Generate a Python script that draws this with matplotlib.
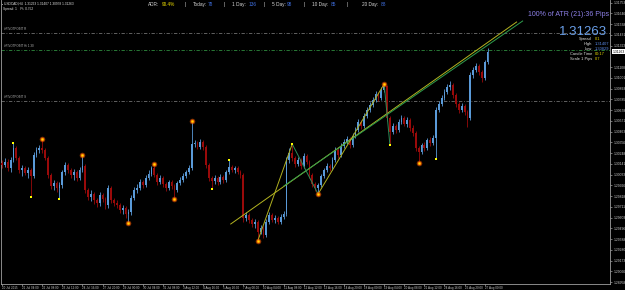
# USDCAD H4 - recreación de la captura del gráfico de velas
import matplotlib.pyplot as plt
from matplotlib.transforms import blended_transform_factory

plt.rcParams['font.family'] = ['Liberation Sans', 'DejaVu Sans']

# ---- DATOS ----
first_open = 1.3015
closes = [
    1.3013, 1.3016, 1.3010, 1.3018, 1.3030, 1.3020, 1.3008, 1.3010, 1.3005, 1.3008,
    1.3002, 1.3023, 1.3028, 1.3030, 1.3028, 1.3020, 1.3003, 1.2992, 1.2995, 1.2990,
    1.2993, 1.3006, 1.3013, 1.3008, 1.3003, 1.3006, 1.3000, 1.3008, 1.3012, 1.2988,
    1.2981, 1.2984, 1.2978, 1.2975, 1.2983, 1.2979, 1.2973, 1.2990, 1.2978, 1.2975,
    1.2973, 1.2968, 1.2970, 1.2964, 1.2966, 1.2980, 1.2988, 1.2990, 1.2996, 1.2993,
    1.3000, 1.3004, 1.3010, 1.3003, 1.2996, 1.3000, 1.2994, 1.2990, 1.2996, 1.2992,
    1.2988, 1.2995, 1.2998, 1.3002, 1.3006, 1.3010, 1.3034, 1.3035, 1.3031, 1.3036,
    1.3031, 1.3013, 1.3000, 1.2997, 1.3000, 1.2996, 1.3001, 1.2998, 1.3006, 1.3011,
    1.3008, 1.3010, 1.3006, 1.3003, 1.2960, 1.2963, 1.2958, 1.2954, 1.2956, 1.2946,
    1.2950, 1.2943, 1.2956, 1.2963, 1.2958, 1.2960, 1.2956, 1.2961, 1.2964, 1.3018,
    1.3025, 1.3020, 1.3014, 1.3018, 1.3012, 1.3022, 1.3016, 1.3003, 1.2994, 1.2990,
    1.2993, 1.3002, 1.3008, 1.3012, 1.3010, 1.3018, 1.3028, 1.3023, 1.3032, 1.3036,
    1.3039, 1.3033, 1.3042, 1.3048, 1.3056, 1.3052, 1.3062, 1.3068, 1.3073, 1.3078,
    1.3084, 1.3080, 1.3088, 1.3092, 1.3060, 1.3046, 1.3052, 1.3048, 1.3056, 1.3060,
    1.3054, 1.3058, 1.3050, 1.3045, 1.3030, 1.3026, 1.3033, 1.3030, 1.3038, 1.3035,
    1.3040, 1.3068, 1.3074, 1.3080, 1.3086, 1.3091, 1.3093, 1.3083, 1.3074, 1.3068,
    1.3072, 1.3066, 1.3060, 1.3103, 1.3108, 1.3112, 1.3106, 1.3100, 1.3116, 1.3126,
]
highs = [
    1.3018, 1.3020, 1.3019, 1.3021, 1.3035, 1.3032, 1.3022, 1.3013, 1.3012, 1.3011,
    1.3010, 1.3026, 1.3031, 1.3033, 1.3039, 1.3030, 1.3022, 1.3005, 1.2998, 1.2997,
    1.2996, 1.3008, 1.3016, 1.3015, 1.3010, 1.3009, 1.3008, 1.3011, 1.3023, 1.3014,
    1.2990, 1.2988, 1.2986, 1.2980, 1.2986, 1.2985, 1.2981, 1.2993, 1.2992, 1.2980,
    1.2978, 1.2975, 1.2973, 1.2972, 1.2969, 1.2983, 1.2991, 1.2994, 1.2999, 1.2998,
    1.3003, 1.3008, 1.3012, 1.3014, 1.3005, 1.3003, 1.3002, 1.2996, 1.2998, 1.2998,
    1.2994, 1.2997, 1.3001, 1.3005, 1.3008, 1.3013, 1.3057, 1.3038, 1.3037, 1.3039,
    1.3038, 1.3033, 1.3015, 1.3002, 1.3003, 1.3002, 1.3004, 1.3003, 1.3008, 1.3018,
    1.3013, 1.3012, 1.3012, 1.3008, 1.3005, 1.2966, 1.2965, 1.2960, 1.2959, 1.2958,
    1.2953, 1.2952, 1.2959, 1.2966, 1.2965, 1.2963, 1.2962, 1.2964, 1.2967, 1.3021,
    1.3030, 1.3034, 1.3022, 1.3021, 1.3020, 1.3025, 1.3024, 1.3018, 1.3005, 1.2996,
    1.2995, 1.3004, 1.3010, 1.3015, 1.3014, 1.3021, 1.3031, 1.3030, 1.3035, 1.3039,
    1.3042, 1.3041, 1.3045, 1.3051, 1.3059, 1.3058, 1.3065, 1.3071, 1.3076, 1.3081,
    1.3087, 1.3086, 1.3091, 1.3094, 1.3093, 1.3062, 1.3055, 1.3054, 1.3059, 1.3063,
    1.3062, 1.3061, 1.3060, 1.3053, 1.3047, 1.3032, 1.3035, 1.3036, 1.3040, 1.3041,
    1.3043, 1.3071, 1.3077, 1.3083, 1.3089, 1.3094, 1.3097, 1.3095, 1.3085, 1.3076,
    1.3075, 1.3074, 1.3068, 1.3106, 1.3111, 1.3115, 1.3114, 1.3108, 1.3118, 1.3130,
]
lows = [
    1.3010, 1.3011, 1.3007, 1.3006, 1.3016, 1.3018, 1.3005, 1.3002, 1.3003, 1.3000,
    1.2981, 1.3000, 1.3021, 1.3025, 1.3025, 1.3018, 1.3000, 1.2989, 1.2988, 1.2986,
    1.2979, 1.2990, 1.3003, 1.3005, 1.3000, 1.2998, 1.2997, 1.2998, 1.3006, 1.2985,
    1.2978, 1.2977, 1.2974, 1.2971, 1.2972, 1.2976, 1.2969, 1.2970, 1.2975, 1.2972,
    1.2970, 1.2965, 1.2964, 1.2960, 1.2955, 1.2963, 1.2978, 1.2985, 1.2988, 1.2990,
    1.2991, 1.2998, 1.3002, 1.3001, 1.2993, 1.2994, 1.2991, 1.2987, 1.2988, 1.2989,
    1.2979, 1.2986, 1.2993, 1.2996, 1.3000, 1.3004, 1.3008, 1.3031, 1.3029, 1.3029,
    1.3028, 1.3010, 1.2997, 1.2989, 1.2994, 1.2993, 1.2994, 1.2995, 1.2996, 1.3004,
    1.3006, 1.3005, 1.3004, 1.3000, 1.2956, 1.2957, 1.2955, 1.2951, 1.2950, 1.2937,
    1.2944, 1.2940, 1.2941, 1.2954, 1.2956, 1.2955, 1.2954, 1.2954, 1.2959, 1.2962,
    1.3015, 1.3017, 1.3011, 1.3012, 1.3009, 1.3010, 1.3014, 1.3000, 1.2991, 1.2987,
    1.2984, 1.2991, 1.3000, 1.3006, 1.3007, 1.3008, 1.3016, 1.3020, 1.3021, 1.3030,
    1.3034, 1.3030, 1.3031, 1.3040, 1.3046, 1.3049, 1.3050, 1.3060, 1.3066, 1.3071,
    1.3076, 1.3077, 1.3078, 1.3086, 1.3057, 1.3033, 1.3044, 1.3045, 1.3046, 1.3054,
    1.3052, 1.3051, 1.3047, 1.3042, 1.3027, 1.3015, 1.3024, 1.3027, 1.3028, 1.3032,
    1.3033, 1.3019, 1.3066, 1.3072, 1.3078, 1.3084, 1.3088, 1.3080, 1.3071, 1.3065,
    1.3066, 1.3063, 1.3051, 1.3058, 1.3100, 1.3106, 1.3103, 1.3096, 1.3098, 1.3114,
]

# Fractales (índices de vela)
frac_hi_big = [14, 28, 53, 66, 133]
frac_lo_big = [44, 60, 89, 110, 145]
frac_hi_small = [4, 79, 101]
frac_lo_small = [10, 20, 73, 135, 151]

# ZigZag
zz_idx = [89, 101, 110, 133, 135]
zz_price = [1.2937, 1.3034, 1.2984, 1.3094, 1.3033]
zz_colors = ['#b0b020', '#2e8b57', '#b0b020', '#2e8b57']

# Líneas de tendencia
trend_yellow_x = [79.6, 179.1]
trend_yellow_y = [1.2954, 1.3156]
trend_green_x = [98.1, 181.2]
trend_green_y = [1.2992, 1.3157]

# Niveles horizontales
levels = [1.31447, 1.3128, 1.3077]
level_colors = ['#707070', '#2e8b3e', '#707070']
level_labels = ['#PIVOTPOINT R', '#PIVOTPOINT Hi 1.30', '#PIVOTPOINT S']

current_price = 1.31263

date_ticks = list(range(0, 170, 7))
date_labels = ['20 Jul 2015', '21 Jul 04:00', '22 Jul 08:00', '23 Jul 12:00',
               '24 Jul 16:00', '27 Jul 20:00', '29 Jul 00:00', '30 Jul 04:00',
               '31 Jul 08:00', '3 Aug 12:00', '4 Aug 16:00', '5 Aug 20:00',
               '7 Aug 00:00', '10 Aug 04:00', '11 Aug 08:00', '12 Aug 12:00',
               '13 Aug 16:00', '14 Aug 20:00', '18 Aug 00:00', '19 Aug 04:00',
               '20 Aug 08:00', '21 Aug 12:00', '24 Aug 16:00', '25 Aug 20:00',
               '27 Aug 00:00']

# ---- GRÁFICO ----
W, H = 625, 290
fig = plt.figure(figsize=(W / 100, H / 100), dpi=100, facecolor='black')
ax = fig.add_axes([1 / W, (H - 283.5) / H, 609 / W, 283.5 / H])
ax.set_facecolor('black')
ax.set_xlim(-0.35, 211.6)
ax.set_ylim(1.3178 - 0.02835, 1.3178)

n = len(closes)
xs = list(range(n))
opens = [first_open] + closes[:-1]
bull, bear = '#5a9ad8', '#9a0a0a'
cols = [bull if c >= o else bear for o, c in zip(opens, closes)]

ax.vlines(xs, lows, highs, colors=cols, linewidth=0.6, zorder=2)
bottoms = [min(o, c) for o, c in zip(opens, closes)]
heights = [max(abs(c - o), 0.00006) for o, c in zip(opens, closes)]
ax.bar(xs, heights, bottom=bottoms, width=0.62, color=cols, linewidth=0, zorder=3)

# niveles
for lv, lc, lt in zip(levels, level_colors, level_labels):
    ax.axhline(lv, color=lc, linewidth=0.6, linestyle=(0, (4, 2, 1, 2)), zorder=1)
    ax.text(0.6, lv + 0.0002, lt, color='#b0b0b0', fontsize=2.2, va='bottom')

# tendencias y zigzag
ax.plot(trend_yellow_x, trend_yellow_y, color='#b5b520', linewidth=0.7, zorder=4)
ax.plot(trend_green_x, trend_green_y, color='#2e9e4e', linewidth=0.7, zorder=4)
for k in range(len(zz_idx) - 1):
    ax.plot(zz_idx[k:k + 2], zz_price[k:k + 2], color=zz_colors[k], linewidth=0.7, zorder=4)

# fractales
hb = [highs[i] for i in frac_hi_big]
lb = [lows[i] for i in frac_lo_big]
for xi, yi in [(frac_hi_big, hb), (frac_lo_big, lb)]:
    ax.scatter(xi, yi, s=16, color='#ff5a00', alpha=0.55, linewidths=0, zorder=5)
    ax.scatter(xi, yi, s=6, color='#ff8c00', linewidths=0, zorder=6)
    ax.scatter(xi, yi, s=1.5, color='#ffe000', linewidths=0, zorder=7)
ax.scatter(frac_hi_small, [highs[i] for i in frac_hi_small], s=3, marker='s',
           color='#ffff00', linewidths=0, zorder=5)
ax.scatter(frac_lo_small, [lows[i] for i in frac_lo_small], s=3, marker='s',
           color='#ffff00', linewidths=0, zorder=5)

# ejes
for s in ['top']:
    ax.spines[s].set_visible(False)
for s in ['left', 'right', 'bottom']:
    ax.spines[s].set_color('#a0a0a0')
    ax.spines[s].set_linewidth(0.6)

yt = [1.3178 - (2.7 + 10.75 * k) * 0.0001 for k in range(27)]
yt = [v for v in yt if abs(v - current_price) > 0.0005]
ax.yaxis.tick_right()
ax.set_yticks(yt)
ax.set_yticklabels([f'{v:.5f}' for v in yt])
ax.tick_params(axis='y', colors='#a0a0a0', labelcolor='#c8c8c8', labelsize=2.4,
               length=1.5, width=0.5, pad=1)
ax.set_xticks(date_ticks)
ax.set_xticklabels(date_labels)
ax.tick_params(axis='x', colors='#a0a0a0', labelcolor='#c8c8c8', labelsize=2.2,
               length=1.5, width=0.5, pad=0.5)
for lab in ax.get_xticklabels():
    lab.set_ha('left')

tr = blended_transform_factory(ax.transAxes, ax.transData)
ax.text(1.004, current_price, f'{current_price:.5f}', transform=tr, fontsize=2.4,
        color='black', va='center', ha='left',
        bbox=dict(boxstyle='square,pad=0.15', fc='white', ec='none'))

# ---- TEXTOS ----
def ft(x, y, s, **kw):
    fig.text(x / W, 1 - y / H, s, va='center', **kw)

ft(2, 3.3, '▪ USDCAD,H4  1.31263 1.31407 1.30978 1.31263', color='#e0e0e0', fontsize=2.3)
ft(3, 9, 'Spread: 1    Pt: 0.752', color='#e0e0e0', fontsize=2.3)

white, yel, blu = '#d8d8d8', '#e8d800', '#3f6fe0'
top_items = [(148, 'ADR:', white), (162, '90.4%', yel), (185, '|', white),
             (193, 'Today:', white), (208, '78', blu), (224, '|', white),
             (232, '1 Day:', white), (249, '136', blu), (264, '|', white),
             (272, '5 Day:', white), (287, '98', blu), (304, '|', white),
             (312, '10 Day:', white), (331, '85', blu), (347, '|', white),
             (362, '20 Day:', white), (381, '88', blu)]
for x, s, c in top_items:
    ft(x, 4.5, s, color=c, fontsize=3.4)

ft(609, 14, '100% of ATR (21):36 Pips', color='#8e80e8', fontsize=5, ha='right')
ft(607, 32, '1.31263', color='#6aa0ea', fontsize=9.5, ha='right')

info_rows = [('Spread', '0.1', yel), ('High', '1.31407', '#5a8ae8'),
             ('Low', '1.30829', '#5a8ae8'), ('Candle Time', '00:17', yel),
             ('Scale 1 Pips', '0.7', yel)]
for k, (lab, val, c) in enumerate(info_rows):
    yy = 39 + 5 * k
    ft(592, yy, lab, color='#e0e0e0', fontsize=2.9, ha='right')
    ft(595, yy, val, color=c, fontsize=2.9, ha='left')

plt.savefig('out.png', dpi=100, facecolor='black')
